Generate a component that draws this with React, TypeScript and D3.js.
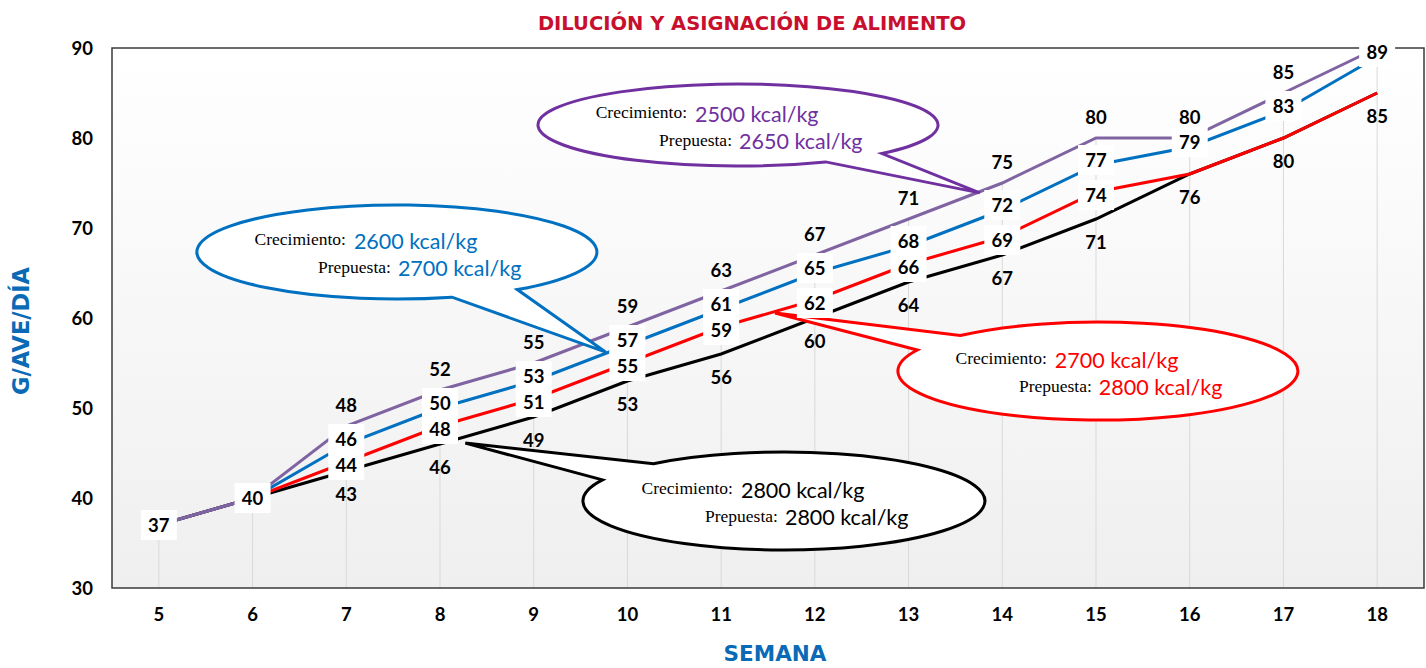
import React from 'react';
import * as d3 from 'd3';

// weeks on the x axis
const weeks = [5, 6, 7, 8, 9, 10, 11, 12, 13, 14, 15, 16, 17, 18];
const yTicks = [30, 40, 50, 60, 70, 80, 90];

// g/ave/día per program (crecimiento / prepuesta kcal/kg)
const serie2500 = [37, 40, 48, 52, 55, 59, 63, 67, 71, 75, 80, 80, 85, 90];
const serie2600 = [37, 40, 46, 50, 53, 57, 61, 65, 68, 72, 77, 79, 83, 89];
const serie2700 = [37, 40, 44, 48, 51, 55, 59, 62, 66, 69, 74, 76, 80, 85];
const serie2800 = [37, 40, 43, 46, 49, 53, 56, 60, 64, 67, 71, 76, 80, 85];

// callout texts
const crecimiento = ['2500 kcal/kg', '2600 kcal/kg', '2700 kcal/kg', '2800 kcal/kg'];
const prepuesta = ['2650 kcal/kg', '2700 kcal/kg', '2800 kcal/kg', '2800 kcal/kg'];

const W = 1426;
const H = 668;
const margin = { top: 48, right: 2, bottom: 80, left: 112 };

const colors = {
  purple: '#8064a2',
  purpleDark: '#7030a0',
  blue: '#0070c0',
  red: '#ff0000',
  black: '#000000',
  title: '#c8102e',
  axisTitle: '#0a6ab6',
};

const x = d3.scaleLinear().domain([4.5, 18.5]).range([margin.left, W - margin.right]);
const y = d3.scaleLinear().domain([30, 90]).range([H - margin.bottom, margin.top]);

const line = d3.line<number>()
  .x((_, i) => x(weeks[i]))
  .y((d) => y(d));

// callout balloons, positioned in data space (week, g/ave/día)
const callouts = [
  { cx: 11.18, cy: 81.44, rx: 200, ry: 41, a1: 44, a2: 64, tx: 13.76, ty: 73.9, stroke: colors.purpleDark, textColor: '#7030a0', i: 0 },
  { cx: 7.54, cy: 67.33, rx: 200, ry: 47, a1: 53, a2: 74, tx: 9.77, ty: 56.2, stroke: colors.blue, textColor: colors.blue, i: 1 },
  { cx: 15.02, cy: 54.1, rx: 200, ry: 49, a1: 205.5, a2: 226.5, tx: 11.575, ty: 60.56, stroke: colors.red, textColor: colors.red, i: 2 },
  { cx: 11.67, cy: 39.67, rx: 201, ry: 49, a1: 205.5, a2: 229.5, tx: 8.27, ty: 46.1, stroke: colors.black, textColor: colors.black, i: 3 },
];

function balloonPath(cx: number, cy: number, rx: number, ry: number, a1: number, a2: number, tx: number, ty: number) {
  const a = (Math.min(a1, a2) * Math.PI) / 180;
  const b = (Math.max(a1, a2) * Math.PI) / 180;
  const px = (t: number) => cx + rx * Math.cos(t);
  const py = (t: number) => cy + ry * Math.sin(t);
  return `M${px(b)},${py(b)} A${rx},${ry} 0 1 1 ${px(a)},${py(a)} L${tx},${ty} Z`;
}

const labelFont = 'Lato, "Open Sans", sans-serif';
const fs = 18.5;

const App = () => {
  const plotW = W - margin.left - margin.right;
  const plotH = H - margin.top - margin.bottom;
  const bottom = H - margin.bottom;

  const boxLabel = (cx: number, cy: number, text: string, key: string) => (
    <g key={key}>
      <rect x={cx - 18} y={cy - 15} width={36} height={30} fill="#fff" />
      <text x={cx} y={cy + 6.5} textAnchor="middle" fontFamily={labelFont} fontWeight={700} fontSize={fs} fill="#000">{text}</text>
    </g>
  );
  const plainLabel = (cx: number, cy: number, text: string, key: string) => (
    <text key={key} x={cx} y={cy + 6.5} textAnchor="middle" fontFamily={labelFont} fontWeight={700} fontSize={fs} fill="#000">{text}</text>
  );

  const labels: React.ReactNode[] = [];
  weeks.forEach((w, i) => {
    const cx = x(w);
    const same = serie2500[i] === serie2800[i];
    if (same) {
      labels.push(boxLabel(cx, y(serie2500[i]), String(serie2500[i]), `s${i}`));
      return;
    }
    if (serie2500[i] < 90) labels.push(plainLabel(cx, y(serie2500[i]) - 21, String(serie2500[i]), `p${i}`));
    labels.push(boxLabel(cx, y(serie2600[i]) - 5, String(serie2600[i]), `b${i}`));
    if (serie2700[i] !== serie2800[i]) labels.push(boxLabel(cx, y(serie2700[i]) + 3, String(serie2700[i]), `r${i}`));
    labels.push(plainLabel(cx, y(serie2800[i]) + 23, String(serie2800[i]), `k${i}`));
  });

  return (
    <svg width={W} height={H} style={{ position: 'absolute', left: 0, top: 0 }}>
      <defs>
        <linearGradient id="plotBg" x1="0" y1="0" x2="0" y2="1">
          <stop offset="0" stopColor="#ffffff" />
          <stop offset="1" stopColor="#efefef" />
        </linearGradient>
      </defs>
      <rect width={W} height={H} fill="#fff" />

      <text x={752} y={30} textAnchor="middle" fontFamily="'DejaVu Sans', sans-serif" fontWeight={700} fontSize={19.5} fill={colors.title}>
        DILUCIÓN Y ASIGNACIÓN DE ALIMENTO
      </text>

      <rect x={margin.left} y={margin.top} width={plotW} height={plotH} fill="url(#plotBg)" />

      {/* drop lines */}
      {weeks.map((w, i) => (
        <line key={w} x1={x(w)} x2={x(w)} y1={y(serie2500[i])} y2={bottom} stroke="#d9d9d9" strokeWidth={1} />
      ))}

      <rect x={margin.left} y={margin.top} width={plotW} height={plotH} fill="none" stroke="#3a3a3a" strokeWidth={1.5} />

      {/* y axis */}
      {yTicks.map((t) => (
        <text key={t} x={93} y={y(t) + 6.5} textAnchor="end" fontFamily={labelFont} fontWeight={700} fontSize={fs} fill="#000">{t}</text>
      ))}
      {/* x axis */}
      {weeks.map((w) => (
        <text key={w} x={x(w)} y={621} textAnchor="middle" fontFamily={labelFont} fontWeight={700} fontSize={fs} fill="#000">{w}</text>
      ))}

      <text transform={`translate(29, 331) rotate(-90)`} textAnchor="middle" fontFamily="'DejaVu Sans', sans-serif" fontWeight={700} fontSize={22.5} fill={colors.axisTitle}>G/AVE/DÍA</text>
      <text x={775} y={661} textAnchor="middle" fontFamily="'DejaVu Sans', sans-serif" fontWeight={700} fontSize={21.5} fill={colors.axisTitle}>SEMANA</text>

      {/* series lines */}
      <path d={line(serie2800) || ''} fill="none" stroke={colors.black} strokeWidth={3} />
      <path d={line(serie2700) || ''} fill="none" stroke={colors.red} strokeWidth={3} />
      <path d={line(serie2600) || ''} fill="none" stroke={colors.blue} strokeWidth={3} />
      <path d={line(serie2500) || ''} fill="none" stroke={colors.purple} strokeWidth={3} />

      {/* callouts */}
      {callouts.map((c) => {
        const cx = x(c.cx);
        const cy = y(c.cy);
        return (
          <g key={c.i}>
            <path d={balloonPath(cx, cy, c.rx, c.ry, c.a1, c.a2, x(c.tx), y(c.ty))} fill="#fff" stroke={c.stroke} strokeWidth={3} strokeLinejoin="miter" />
            <text x={cx - 51} y={cy - 7} textAnchor="end" fontFamily="'Liberation Serif', serif" fontSize={17.5} fill="#000">Crecimiento:</text>
            <text x={cx - 43} y={cy - 3} fontFamily={labelFont} fontSize={21.5} fill={c.textColor}>{crecimiento[c.i]}</text>
            <text x={cx - 6} y={cy + 21} textAnchor="end" fontFamily="'Liberation Serif', serif" fontSize={17.5} fill="#000">Prepuesta:</text>
            <text x={cx + 1} y={cy + 24} fontFamily={labelFont} fontSize={21.5} fill={c.textColor}>{prepuesta[c.i]}</text>
          </g>
        );
      })}

      {labels}
    </svg>
  );
};

export default App;
